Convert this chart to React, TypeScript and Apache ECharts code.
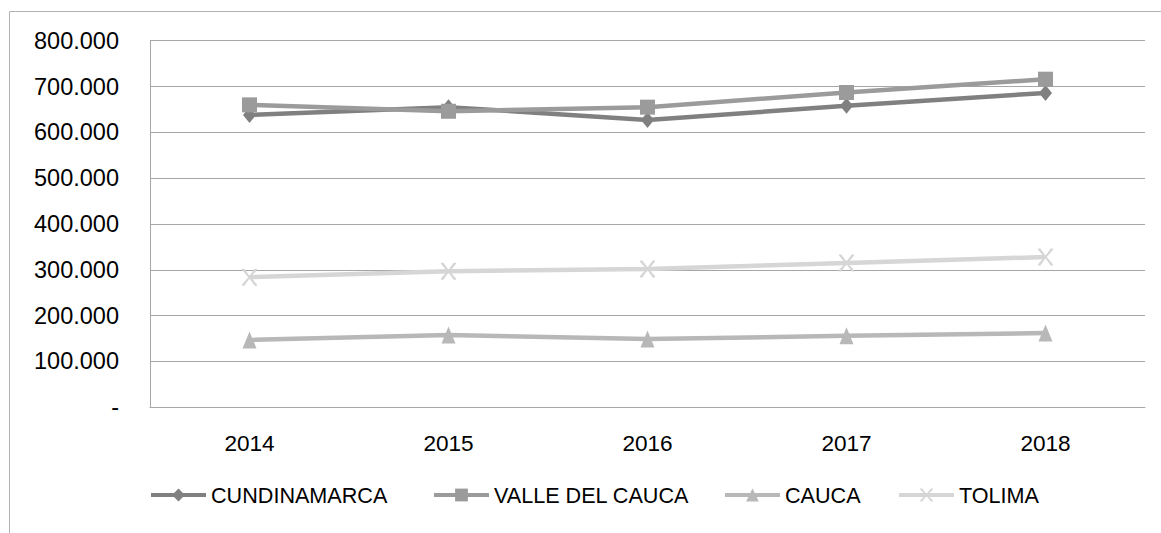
import React, { useEffect, useRef } from "react";
import * as echarts from "echarts";

const years = ["2014", "2015", "2016", "2017", "2018"];
const cundinamarca = [638000, 655000, 627000, 658000, 686000];
const valleDelCauca = [660000, 646000, 655000, 687000, 716000];
const cauca = [147000, 158000, 149000, 156000, 162000];
const tolima = [284000, 297000, 302000, 315000, 328000];
const seriesNames = ["CUNDINAMARCA", "VALLE DEL CAUCA", "CAUCA", "TOLIMA"];
const yMin = 0;
const yMax = 800000;
const yStep = 100000;

const FONT = "'Liberation Sans', Arial, sans-serif";
const X_SYMBOL =
  "path://M0,0 L1.6,0 L5,4.2 L8.4,0 L10,0 L10,0.8 L5.8,5 L10,9.2 L10,10 L8.4,10 L5,5.8 L1.6,10 L0,10 L0,9.2 L4.2,5 L0,0.8 Z";

function fmt(v: number): string {
  if (v === 0) return "-";
  return String(Math.round(v)).replace(/\B(?=(\d{3})+(?!\d))/g, ".");
}

export default function App() {
  const ref = useRef<HTMLDivElement>(null);
  useEffect(() => {
    if (!ref.current) return;
    const chart = echarts.init(ref.current, undefined, { renderer: "svg" });
    const colors = ["#808080", "#9b9b9b", "#b8b8b8", "#d6d6d6"];
    const datasets = [cundinamarca, valleDelCauca, cauca, tolima];
    const symbols = ["diamond", "rect", "triangle", X_SYMBOL];
    const sizes: any[] = [[13, 16], 15, [14, 17], [15, 17]];
    const legendLefts = [144, 427, 718, 892];
    chart.setOption({
      animation: false,
      backgroundColor: "#ffffff",
      grid: { left: 150, right: 16, top: 40.7, bottom: 125.7, containLabel: false },
      graphic: [
        {
          type: "rect",
          z: -1,
          shape: { x: 9.5, y: 11.5, width: 1300, height: 700 },
          style: { fill: "none", stroke: "#b3b3b3", lineWidth: 1 },
          silent: true,
        },
      ],
      legend: seriesNames.map((n, i) => ({
        data: [n],
        left: legendLefts[i],
        top: 477,
        itemWidth: 55,
        itemHeight: 16,
        itemGap: 0,
        lineStyle: { width: 4 },
        textStyle: { fontFamily: FONT, fontSize: 21.6, color: "#000", lineHeight: 26 },
      })),
      xAxis: {
        type: "category",
        data: years,
        boundaryGap: true,
        axisLine: { show: true, lineStyle: { color: "#a6a6a6", width: 1 } },
        axisTick: { show: false },
        axisLabel: { fontFamily: FONT, fontSize: 22.6, color: "#000", margin: 25 },
      },
      yAxis: {
        type: "value",
        min: yMin,
        max: yMax,
        interval: yStep,
        axisLine: { show: true, lineStyle: { color: "#a6a6a6", width: 1 } },
        axisTick: { show: false },
        splitLine: { show: true, lineStyle: { color: "#a6a6a6", width: 1 } },
        axisLabel: {
          fontFamily: FONT,
          fontSize: 23.5,
          color: "#000",
          margin: 31,
          formatter: (v: number) => fmt(v),
        },
      },
      series: seriesNames.map((n, i) => ({
        name: n,
        type: "line",
        data: datasets[i],
        symbol: symbols[i],
        symbolSize: sizes[i],
        showAllSymbol: true,
        lineStyle: { color: colors[i], width: 4.5 },
        itemStyle: { color: colors[i] },
        z: 2 + i,
      })),
    });
    return () => chart.dispose();
  }, []);
  return (
    <div
      ref={ref}
      style={{ position: "fixed", left: 0, top: 0, width: 1161, height: 533 }}
    />
  );
}
